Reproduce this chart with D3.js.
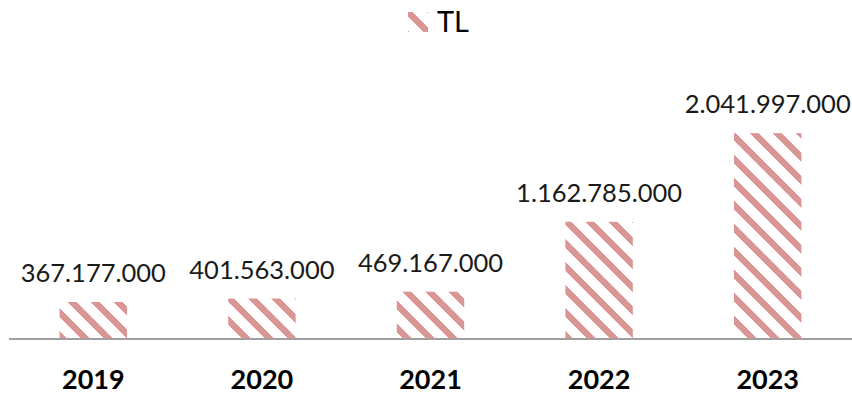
<!DOCTYPE html>
<html>
<head>
<meta charset="utf-8">
<script src="https://cdn.jsdelivr.net/npm/d3@7"></script>
<style>
  html, body { margin: 0; padding: 0; background: #ffffff; }
  svg { display: block; }
</style>
</head>
<body>
<svg id="chart" width="852" height="399"></svg>
<script>
const categories = ["2019", "2020", "2021", "2022", "2023"];
const seriesName = "TL";
const values = [367177000, 401563000, 469167000, 1162785000, 2041997000];
const valueLabels = ["367.177.000", "401.563.000", "469.167.000", "1.162.785.000", "2.041.997.000"];

const W = 852, H = 399;
const plot = { left: 9, right: 852, top: 87, bottom: 339 };
const barColor = "#d99694";
const font = "Lato, 'Open Sans', sans-serif";

const svg = d3.select("#chart");

const defs = svg.append("defs");
const pat = defs.append("pattern")
  .attr("id", "diag")
  .attr("patternUnits", "userSpaceOnUse")
  .attr("width", 23).attr("height", 23);
pat.append("path")
  .attr("d", "M-6,-6 L29,29 M-6,17 L6,29 M17,-6 L29,6")
  .attr("stroke", barColor)
  .attr("stroke-width", 5.8)
  .attr("shape-rendering", "crispEdges");

const x = d3.scaleBand()
  .domain(categories)
  .range([plot.left, plot.right])
  .paddingInner(0.6)
  .paddingOuter(0.3);

const y = d3.scaleLinear()
  .domain([0, 2500000000])
  .range([plot.bottom, plot.top]);

const data = categories.map((c, i) => ({ c, v: values[i], label: valueLabels[i] }));

svg.append("g").selectAll("rect")
  .data(data)
  .join("rect")
  .attr("x", d => x(d.c))
  .attr("y", d => y(d.v))
  .attr("width", x.bandwidth())
  .attr("height", d => y(0) - y(d.v))
  .attr("fill", "url(#diag)");

// axis line
const xAxis = d3.axisBottom(x).tickSize(0).tickPadding(0);
const gx = svg.append("g")
  .attr("transform", `translate(0,${plot.bottom})`)
  .call(xAxis);
gx.select(".domain")
  .attr("stroke", "#a0a0a0")
  .attr("stroke-width", 2)
  .attr("d", `M${plot.left},0H${plot.right}`);
gx.selectAll(".tick text")
  .attr("y", 50)
  .attr("dy", 0)
  .attr("fill", "#000")
  .attr("font-family", font)
  .attr("font-weight", "bold")
  .attr("font-size", 27);

// value labels
svg.append("g").selectAll("text")
  .data(data)
  .join("text")
  .attr("x", d => x(d.c) + x.bandwidth() / 2)
  .attr("y", d => y(d.v) - 20)
  .attr("text-anchor", "middle")
  .attr("font-family", font)
  .attr("font-size", 25.5)
  .attr("fill", "#1a1a1a")
  .text(d => d.label);

// legend
const lg = svg.append("g").attr("transform", "translate(408,12)");
lg.append("rect")
  .attr("width", 20).attr("height", 20)
  .attr("fill", "url(#diag)");
lg.append("text")
  .attr("x", 29).attr("y", 20)
  .attr("font-family", font)
  .attr("font-size", 29)
  .attr("fill", "#000")
  .text(seriesName);
</script>
</body>
</html>
